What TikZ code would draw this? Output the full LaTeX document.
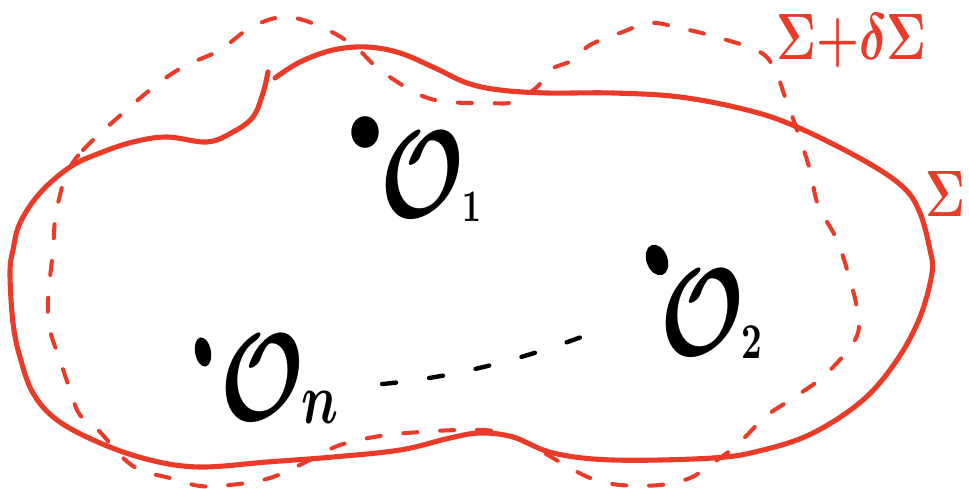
\documentclass[tikz,border=0pt]{standalone}
\usetikzlibrary{positioning,shapes.geometric}
\definecolor{sgred}{HTML}{EA3A28}
\newcommand{\subsz}[2]{_{\raisebox{3pt}{\fontsize{#1}{#1}\selectfont$#2$}}}
\tikzset{
  surf/.style  ={draw=sgred, line width=2.9pt, line cap=round, line join=round},
  surfd/.style ={draw=sgred, line width=2.3pt, line cap=round, dash pattern=on 8pt off 13pt},
  pt/.style    ={ellipse, fill=black, inner sep=0pt, scale=0.6},
  op/.style    ={font=\Huge\boldmath, scale=2.85, xscale=0.72, text=black, inner sep=0pt, anchor=base west},
  slbl/.style  ={font=\Huge\boldmath, scale=1.5, xscale=0.75, text=sgred, inner sep=0pt, anchor=base west},
  lnk/.style   ={draw=black, line width=2.5pt, line cap=round, dash pattern=on 8pt off 19pt}
}
\begin{document}
\begin{tikzpicture}[x=0.02cm, y=-0.02cm]
  \useasboundingbox (0,0) rectangle (969,489);
  \draw[surf] plot[smooth, tension=0.6] coordinates {
    (275,78) (300,62) (333,50) (367,47) (400,53) (435,68) (467,83) (500,90)
    (547,93) (613,93) (680,97) (747,110) (797,127) (863,160) (903,187)
    (920,213) (930,250) (932,273) (920,317) (897,360) (863,400) (813,433)
    (763,450) (713,458) (613,460) (553,453) (513,437) (480,433) (450,438)
    (400,450) (333,457) (267,462) (200,467) (150,460) (100,443) (57,420)
    (33,393) (20,357) (13,323) (10,273) (13,250) (20,223) (40,193) (70,167)
    (100,153) (133,142) (167,137) (207,142) (233,132) (253,117) (263,93) (268,72)};
  \draw[surfd] plot[smooth cycle, tension=0.6] coordinates {
    (67,173) (83,150) (123,113) (160,82) (187,65) (220,50) (250,28) (283,17)
    (317,25) (353,45) (380,70) (420,95) (450,102) (487,103) (513,102) (537,87)
    (550,70) (573,60) (590,45) (620,33) (650,23) (680,28) (720,38) (760,52)
    (775,70) (785,97) (797,130) (810,170) (818,205) (837,240) (850,280)
    (857,310) (856,338) (825,375) (790,400) (765,417) (737,445) (710,465)
    (690,478) (660,485) (620,485) (590,478) (560,462) (530,445) (500,432)
    (463,430) (420,432) (380,436) (340,445) (310,460) (270,478) (230,485)
    (200,486) (170,478) (140,470) (120,455) (100,432) (80,415) (70,390)
    (60,360) (50,330) (48,300) (53,250) (55,220) (60,195)};
  \node[slbl] (sdl) at (776,60) {$\Sigma{+}\delta\Sigma$};
  \node[slbl] (sig) at (925,217) {$\Sigma$};
  \node[pt, minimum width=26pt, minimum height=30pt] (p1) at (365,132) {};
  \node[pt, minimum width=20pt, minimum height=30pt, rotate=20] (p2) at (657,260) {};
  \node[pt, minimum width=15pt, minimum height=28pt, rotate=10] (pn) at (203,352) {};
  \node[op] (o1) at (380,218) {$\mathcal{O}\subsz{9}{1}$};
  \node[op] (o2) at (660,355) {$\mathcal{O}\subsz{10}{2}$};
  \node[op] (on) at (220,420) {$\mathcal{O}\subsz{15}{n}$};
  \coordinate (la) at (382,384);
  \coordinate (lb) at (584,336);
  \draw[lnk] (la) .. controls (450,378) and (520,360) .. (lb);
\end{tikzpicture}
\end{document}
